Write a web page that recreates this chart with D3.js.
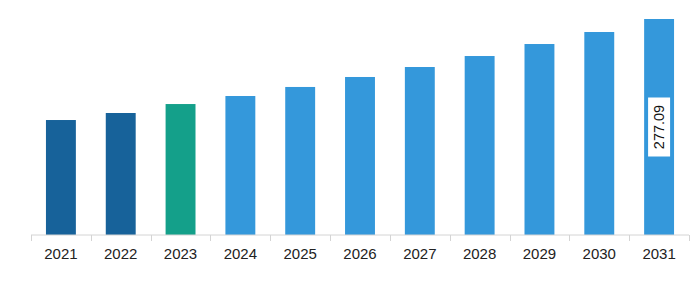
<!DOCTYPE html>
<html><head><meta charset="utf-8">
<script src="https://cdn.jsdelivr.net/npm/d3@7"></script>
<style>body{margin:0;background:#fff}svg{display:block}</style>
</head><body><svg id="c" width="698" height="282"></svg>
<script>
const years = ["2021","2022","2023","2024","2025","2026","2027","2028","2029","2030","2031"];
const values = [147.5,156.5,168.0,178.3,189.9,202.7,215.5,229.6,245.0,260.4,277.09];
const barColors = ["#17629a","#17629a","#14a08a","#3498db","#3498db","#3498db","#3498db","#3498db","#3498db","#3498db","#3498db"];
const labelIndex = 10;

const svg = d3.select("#c");
const x = d3.scaleBand().domain(years).range([31, 689]).paddingInner(0.5).paddingOuter(0.25);
const y = d3.scaleLinear().domain([0, 277.09]).range([235, 19]);

svg.selectAll("rect.bar").data(values).join("rect").attr("class","bar")
  .attr("x",(d,i)=>x(years[i])).attr("width",x.bandwidth())
  .attr("y",d=>y(d)).attr("height",d=>y(0)-y(d))
  .attr("fill",(d,i)=>barColors[i]);

const ax = svg.append("g").attr("transform","translate(0,235)");
ax.append("line").attr("x1",31).attr("x2",689).attr("stroke","#d4d4d4").attr("stroke-width",1);
const step = x.step();
const ticks = d3.range(years.length+1).map(i=>31+i*step);
ax.selectAll("line.t").data(ticks).join("line").attr("class","t")
  .attr("x1",d=>Math.round(d)+0.5).attr("x2",d=>Math.round(d)+0.5).attr("y1",0).attr("y2",6)
  .attr("stroke","#d4d4d4");
ax.selectAll("text").data(years).join("text")
  .attr("x",d=>x(d)+x.bandwidth()/2).attr("y",24)
  .attr("text-anchor","middle").attr("font-family","Liberation Sans, Arial, sans-serif")
  .attr("font-size",15).attr("fill","#222").text(d=>d);

// value label
const lx = x(years[labelIndex]) + x.bandwidth()/2;
const ly = 127;
const g = svg.append("g").attr("transform",`translate(${lx},${ly}) rotate(-90)`);
g.append("rect").attr("x",-29.5).attr("y",-11).attr("width",59).attr("height",22).attr("fill","#fff");
g.append("text").attr("x",0).attr("y",5.3).attr("text-anchor","middle")
  .attr("font-family","Liberation Sans, Arial, sans-serif").attr("font-size",14.5).attr("fill","#111")
  .text(values[labelIndex].toFixed(2));
</script></body></html>
